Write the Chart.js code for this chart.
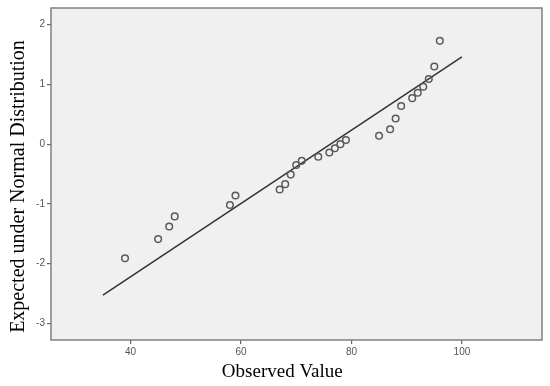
<!DOCTYPE html>
<html>
<head>
<meta charset="utf-8">
<script src="https://cdn.jsdelivr.net/npm/chart.js@4/dist/chart.umd.min.js"></script>
<style>
  html, body { margin: 0; padding: 0; background: #fff; }
  #wrap { width: 550px; height: 386px; }
</style>
</head>
<body>
<div id="wrap"><canvas id="qq" width="550" height="386"></canvas></div>
<script>
// observed values and their expected normal scores
const observed = [39, 45, 47, 48, 58, 59, 67, 68, 69, 70, 71, 74, 76, 77, 78, 79, 85, 87, 88, 89, 91, 92, 93, 94, 95, 96];
const expected = [-1.91, -1.59, -1.38, -1.21, -1.02, -0.86, -0.76, -0.67, -0.51, -0.35, -0.28, -0.21, -0.14, -0.07, 0.0, 0.07, 0.14, 0.25, 0.43, 0.64, 0.77, 0.86, 0.96, 1.09, 1.30, 1.73];

// reference line end points
const lineX = [35, 100];
const lineY = [-2.53, 1.46];

const xTicks = [40, 60, 80, 100];
const yTicks = [-3, -2, -1, 0, 1, 2];

const points = observed.map((v, i) => ({ x: v, y: expected[i] }));
const refLine = lineX.map((v, i) => ({ x: v, y: lineY[i] }));

// grey plot panel with a full box round it
const panel = {
    id: 'panel',
    beforeDatasetsDraw(chart) {
        const { ctx, chartArea: a } = chart;
        ctx.save();
        ctx.fillStyle = '#f0f0f0';
        ctx.fillRect(a.left, a.top, a.right - a.left, a.bottom - a.top);
        ctx.restore();
    },
    afterDraw(chart) {
        const { ctx, chartArea: a } = chart;
        ctx.save();
        ctx.strokeStyle = '#808080';
        ctx.lineWidth = 1.5;
        ctx.strokeRect(a.left, a.top, a.right - a.left, a.bottom - a.top);
        ctx.restore();
    }
};

const tickFont = { family: 'Liberation Sans, Arial, sans-serif', size: 10 };
const serif = 'Liberation Serif, Times New Roman, serif';

// trailing spaces nudge the titles off centre, as in the original
new Chart(document.getElementById('qq'), {
    type: 'scatter',
    data: {
        datasets: [
            {
                data: points,
                pointRadius: 3.3,
                pointBorderWidth: 1.5,
                borderColor: '#5a5a5a',
                backgroundColor: 'transparent',
                order: 1
            },
            {
                data: refLine,
                showLine: true,
                pointRadius: 0,
                borderColor: '#333',
                borderWidth: 1.5,
                order: 2
            }
        ]
    },
    plugins: [panel],
    options: {
        responsive: false,
        animation: false,
        layout: { padding: { top: 7, right: 8, left: 0, bottom: 0 } },
        plugins: { legend: { display: false }, tooltip: { enabled: false } },
        scales: {
            x: {
                type: 'linear',
                min: 25.6,
                max: 114.5,
                afterBuildTicks: s => { s.ticks = xTicks.map(v => ({ value: v })); },
                afterFit: s => { s.height = 46; },
                grid: { drawOnChartArea: false, tickLength: 4, color: '#666', lineWidth: 1.2 },
                border: { display: false },
                ticks: { font: tickFont, color: '#555', padding: 2, maxRotation: 0 },
                title: { display: true, text: 'Observed Value      ', font: { family: serif, size: 19 }, color: '#000', padding: { top: 0, bottom: 3 } }
            },
            y: {
                type: 'linear',
                min: -3.28,
                max: 2.28,
                afterBuildTicks: s => { s.ticks = yTicks.map(v => ({ value: v })); },
                afterFit: s => { s.width = 51; },
                grid: { drawOnChartArea: false, tickLength: 4, color: '#666', lineWidth: 1.2 },
                border: { display: false },
                ticks: { font: tickFont, color: '#555', padding: 2 },
                title: { display: true, text: 'Expected under Normal Distribution     ', font: { family: serif, size: 20 }, color: '#000', padding: { top: 7, bottom: 0 } }
            }
        }
    }
});
</script>
</body>
</html>
